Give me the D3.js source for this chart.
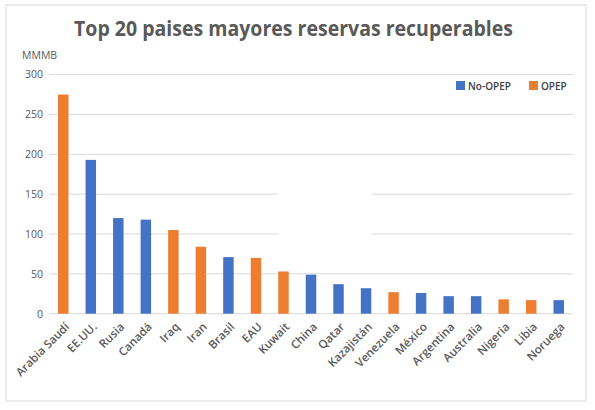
<!DOCTYPE html>
<html><head><meta charset="utf-8">
<script src="https://cdn.jsdelivr.net/npm/d3@7"></script>
<style>body{margin:0;background:#fff;}svg{display:block;font-family:"Open Sans",sans-serif;}</style>
</head><body>
<svg id="c" width="595" height="410"></svg>
<script>
const categories = ["Arabia Saudí","EE.UU.","Rusia","Canadá","Iraq","Iran","Brasil","EAU","Kuwait","China","Qatar","Kazajistán","Venezuela","México","Argentina","Australia","Nigeria","Libia","Noruega"];
const values = [275, 193, 120, 118, 105, 84, 71, 70, 53, 49, 37, 32, 27, 26, 22, 22, 18, 17, 17];
const groups = ["OPEP","No-OPEP","No-OPEP","No-OPEP","OPEP","OPEP","No-OPEP","OPEP","OPEP","No-OPEP","No-OPEP","No-OPEP","OPEP","No-OPEP","No-OPEP","No-OPEP","OPEP","OPEP","No-OPEP"];
const seriesNames = ["No-OPEP","OPEP"];
const yTicks = [0, 50, 100, 150, 200, 250, 300];
const title = "Top 20 paises mayores reservas recuperables";
const unitLabel = "MMMB";

const svg = d3.select("#c");
const color = d3.scaleOrdinal().domain(seriesNames).range(["#4472C4","#ED7D31"]);

// chart frame
svg.append("rect").attr("x",6).attr("y",5).attr("width",580).attr("height",396)
  .attr("fill","#fff").attr("stroke","#d9d9d9").attr("stroke-width",1);

const x = d3.scaleBand().domain(categories).range([49.5, 572.5]).paddingInner(0.62).paddingOuter(0.31);
const y = d3.scaleLinear().domain([0,300]).range([313.7, 74.6]);

// gridlines
svg.append("g").selectAll("line").data(yTicks).join("line")
  .attr("x1",49).attr("x2",573).attr("y1",d=>y(d)).attr("y2",d=>y(d))
  .attr("stroke","#d9d9d9").attr("stroke-width",1);
// white patch interrupting gridlines (as in reference)
svg.append("rect").attr("x",278).attr("y",y(150)-3).attr("width",94).attr("height",y(100)-y(150)+6).attr("fill","#fff");

// y axis labels
const yAxis = d3.axisLeft(y).tickValues(yTicks).tickSize(0).tickPadding(0);
const ga = svg.append("g").attr("transform","translate(43,0)").call(yAxis);
ga.select(".domain").remove();
ga.selectAll("text").attr("fill","#595959").attr("font-size","10.5px").attr("font-family","Open Sans, sans-serif");

// bars
svg.append("g").selectAll("rect").data(categories).join("rect")
  .attr("x",d=>x(d)).attr("width",x.bandwidth())
  .attr("y",(d,i)=>y(values[i])).attr("height",(d,i)=>y(0)-y(values[i]))
  .attr("fill",(d,i)=>color(groups[i]));

// x labels
const xAxis = d3.axisBottom(x).tickSize(0).tickPadding(0);
const gx = svg.append("g").attr("transform",`translate(0,${y(0)})`).call(xAxis);
gx.select(".domain").remove();
gx.selectAll("text")
  .attr("fill","#595959").attr("font-size","11.5px").attr("font-weight","600")
  .attr("font-family","Open Sans, sans-serif")
  .attr("text-anchor","end").attr("dy","0.35em")
  .attr("transform","translate(4,11) rotate(-45)");

// title
svg.append("text").attr("x",293.5).attr("y",36).attr("text-anchor","middle")
  .attr("fill","#595959").attr("font-size","21px").attr("font-weight","700")
  .attr("textLength",439).attr("lengthAdjust","spacingAndGlyphs").text(title);

// unit label
svg.append("text").attr("x",22).attr("y",59).attr("fill","#595959").attr("font-size","10.5px").text(unitLabel);

// legend
const legendX = [456, 529];
const lg = svg.append("g").selectAll("g").data(seriesNames).join("g")
  .attr("transform",(d,i)=>`translate(${legendX[i]},81)`);
lg.append("rect").attr("width",9).attr("height",9).attr("fill",d=>color(d));
lg.append("text").attr("x",12).attr("y",8.5).attr("fill","#404040").attr("font-size","10px").attr("font-weight","600").text(d=>d);
</script>
</body></html>
